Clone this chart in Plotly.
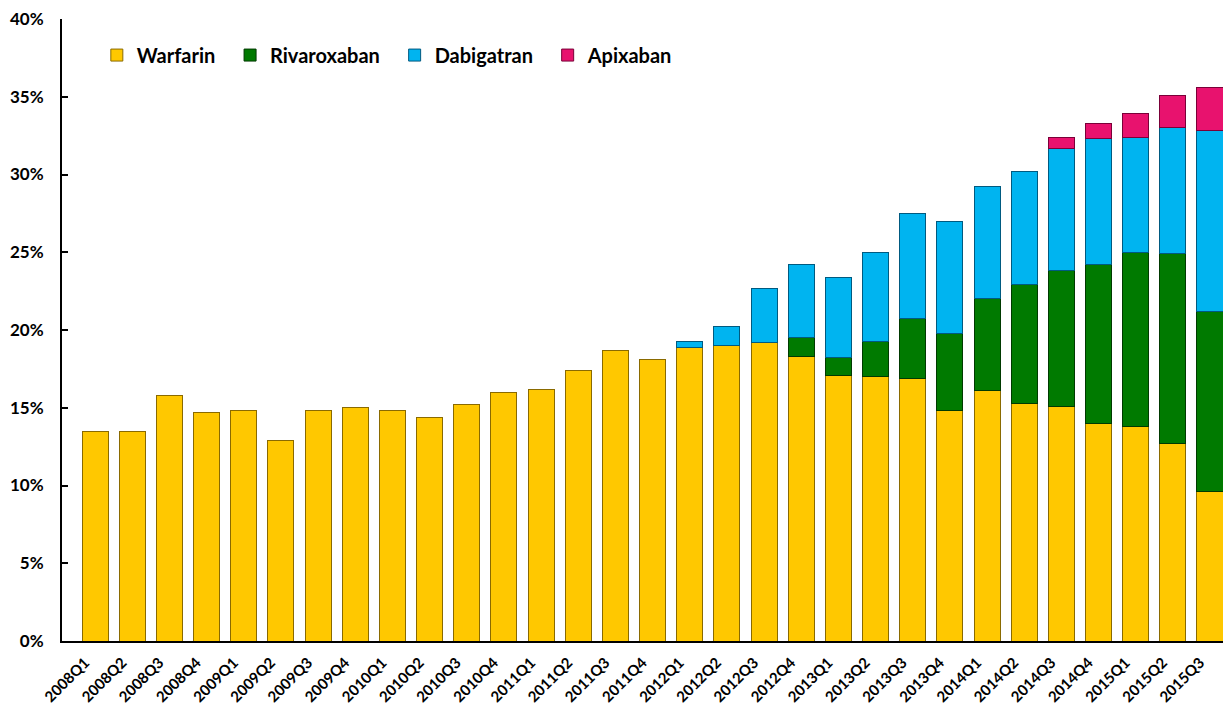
import plotly.graph_objects as go

quarters = ["2008Q1","2008Q2","2008Q3","2008Q4","2009Q1","2009Q2","2009Q3","2009Q4",
            "2010Q1","2010Q2","2010Q3","2010Q4","2011Q1","2011Q2","2011Q3","2011Q4",
            "2012Q1","2012Q2","2012Q3","2012Q4","2013Q1","2013Q2","2013Q3","2013Q4",
            "2014Q1","2014Q2","2014Q3","2014Q4","2015Q1","2015Q2","2015Q3"]

# cumulative tops (%)
warfarin_top = [13.5,13.5,15.8,14.7,14.8,12.9,14.8,15.0,
                14.8,14.4,15.2,16.0,16.2,17.4,18.7,18.1,
                18.9,19.0,19.2,18.3,17.1,17.0,16.9,14.8,
                16.1,15.3,15.1,14.0,13.8,12.7,9.6]
rivaroxaban_top = [None]*19 + [19.5,18.2,19.25,20.75,19.8,22.0,22.9,23.8,24.2,25.0,24.9,21.2]
dabigatran_top = [None]*16 + [19.25,20.2,22.7,24.2,23.4,25.0,27.5,27.0,29.2,30.2,31.7,32.3,32.4,33.0,32.8]
apixaban_top = [None]*26 + [32.4,33.3,33.9,35.1,35.6]

def seg(top, below):
    return [None if t is None else round(t - b, 2) / 100 for t, b in zip(top, below)]

prev_r = [r if r is not None else w for r, w in zip(rivaroxaban_top, warfarin_top)]
prev_d = [d if d is not None else r for d, r in zip(dabigatran_top, prev_r)]

warfarin = [w / 100 for w in warfarin_top]
rivaroxaban = seg(rivaroxaban_top, warfarin_top)
dabigatran = seg(dabigatran_top, prev_r)
apixaban = seg(apixaban_top, prev_d)

series = [
    ("Warfarin", warfarin, "#FFC800", "#8A6A00"),
    ("Rivaroxaban", rivaroxaban, "#007A00", "#003A00"),
    ("Dabigatran", dabigatran, "#00B4F0", "#005A80"),
    ("Apixaban", apixaban, "#E8126E", "#7A0038"),
]

fig = go.Figure()
for name, vals, col, edge in series:
    fig.add_trace(go.Bar(
        x=quarters, y=vals, name=name + "\u00a0\u00a0",
        marker=dict(color=col, line=dict(color=edge, width=1)),
    ))

font_family = "Lato, 'Open Sans', Arial, sans-serif"

fig.update_layout(
    barmode="stack",
    bargap=0.3,
    width=1223, height=710,
    margin=dict(l=62, r=0, t=19, b=69),
    plot_bgcolor="white",
    paper_bgcolor="white",
    font=dict(family=font_family, color="black", size=15),
    legend=dict(
        orientation="h",
        x=0.03, y=0.942, xanchor="left", yanchor="middle",
        font=dict(size=20, family=font_family, weight="bold"),
        bgcolor="rgba(0,0,0,0)",
        itemwidth=30,
        traceorder="normal",
    ),
    showlegend=True,
)
fig.update_xaxes(
    range=[-0.89, 30.35],
    tickangle=-45,
    automargin=False,
    showline=True, linecolor="black", linewidth=2,
    ticks="",
    showgrid=False,
    ticklabelstandoff=5,
    ticklabelshift=-10,
    tickfont=dict(size=15, family=font_family, weight="bold"),
)
fig.update_yaxes(
    range=[0, 0.40],
    dtick=0.05,
    tickformat=".0%",
    automargin=False,
    showline=True, linecolor="black", linewidth=2,
    ticks="inside", ticklen=6, tickcolor="black", tickwidth=2,
    showgrid=False,
    zeroline=False,
    ticklabelstandoff=13,
    tickfont=dict(size=17, family=font_family, weight="bold"),
)

fig.write_html("out.html")
